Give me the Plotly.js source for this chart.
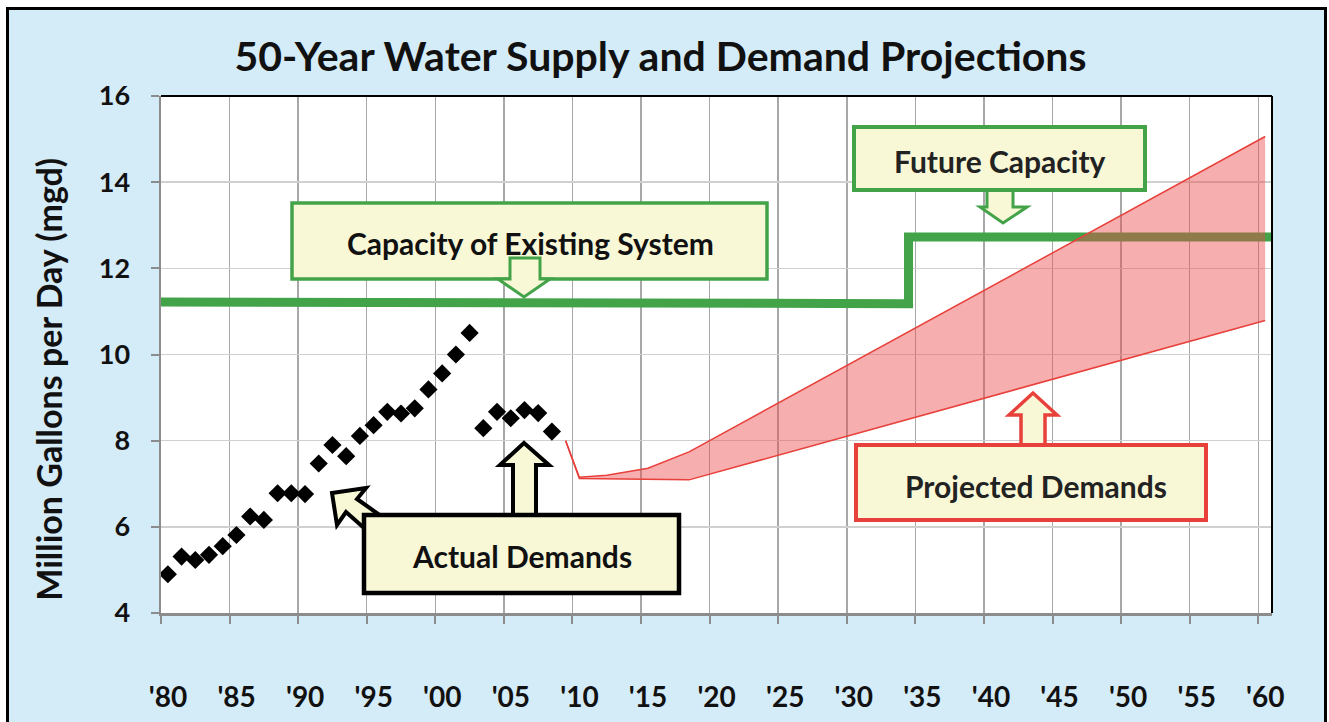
<!DOCTYPE html>
<html>
<head>
<meta charset="utf-8">
<script src="https://cdn.plot.ly/plotly-3.0.1.min.js"></script>
<style>
  html, body { margin: 0; padding: 0; background: #ffffff; overflow: hidden; width: 1329px; height: 722px; }
  #frame { position: absolute; left: 6px; top: 7px; width: 1315px; height: 800px; border: 3px solid #000; background: #d4ebf8; }
  #chart { position: absolute; left: 0; top: 0; width: 1329px; height: 722px; }
</style>
</head>
<body>
<div id="frame"></div>
<div id="chart"></div>
<script>
// ---------- data ----------
const actualYears = [1980,1981,1982,1983,1984,1985,1986,1987,1988,1989,1990,1991,1992,1993,1994,
                     1995,1996,1997,1998,1999,2000,2001,2002,2003,2004,2005,2006,2007,2008];
const actualMgd   = [4.90,5.31,5.23,5.35,5.55,5.81,6.24,6.16,6.78,6.78,6.76,7.47,7.90,7.64,8.11,
                     8.36,8.67,8.63,8.75,9.19,9.56,10.00,10.50,8.29,8.67,8.52,8.71,8.64,8.21];

const capacityYears = [1980, 2034.5, 2034.5, 2061];
const capacityMgd   = [11.22, 11.18, 12.73, 12.73];

const lowYears  = [2009, 2010, 2018, 2060];
const lowMgd    = [8.00, 7.12, 7.09, 10.79];
const highYears = [2009, 2010, 2012, 2015, 2018, 2060];
const highMgd   = [8.00, 7.15, 7.20, 7.36, 7.74, 15.06];

const tickYears  = [1980,1985,1990,1995,2000,2005,2010,2015,2020,2025,2030,2035,2040,2045,2050,2055,2060];
const tickLabels = ["'80","'85","'90","'95","'00","'05","'10","'15","'20","'25","'30","'35","'40","'45","'50","'55","'60"];

// ---------- layout helpers (pixel -> data) ----------
const L = 161, R = 1272, T = 96, B = 613;
const XR = [1980, 2061], YR = [4, 16];
const X = px => XR[0] + (px - L) / (R - L) * (XR[1] - XR[0]);
const Y = py => YR[1] - (py - T) / (B - T) * (YR[1] - YR[0]);
const poly = pts => 'M ' + pts.map(p => X(p[0]) + ',' + Y(p[1])).join(' L ') + ' Z';
const rect = (x0, y0, x1, y1, col, w) => ({type:'rect', xref:'x', yref:'y', layer:'above',
  x0:X(x0), x1:X(x1), y0:Y(y0), y1:Y(y1), fillcolor:'#f8f8d6', line:{color:col, width:w}});
const arrow = (pts, col, w) => ({type:'path', xref:'x', yref:'y', layer:'above', path:poly(pts),
  fillcolor:'#f8f8d6', line:{color:col, width:w}});

const GREEN = '#43a349', RED = '#e8403a', BLACK = '#000000';
const mid = v => v + 0.5;   // values plotted at the middle of each year

const traces = [
  { x: capacityYears, y: capacityMgd, mode:'lines', line:{color:GREEN, width:9}, hoverinfo:'skip' },
  { x: lowYears.map(mid), y: lowMgd, mode:'lines', line:{color:RED, width:1.5} },
  { x: highYears.map(mid), y: highMgd, mode:'lines', line:{color:RED, width:1.5},
    fill:'tonexty', fillcolor:'rgba(235,75,75,0.45)' },
  { x: actualYears.map(mid), y: actualMgd, mode:'markers',
    marker:{symbol:'diamond', size:14, color:BLACK} }
];

const FONT = 'Lato, "Open Sans", sans-serif';
const shapes = [
  {type:'line', xref:'paper', yref:'paper', x0:0, x1:1, y0:1, y1:1, line:{color:'#000', width:2}, layer:'above'},
  {type:'line', xref:'paper', yref:'paper', x0:1, x1:1, y0:0, y1:1, line:{color:'#000', width:2}, layer:'above'},
  arrow([[332,493],[366,488],[357,499],[381,516],[364,528],[346,512],[337,525]], BLACK, 4),
  arrow([[513,520],[513,465],[500,465],[524,443],[549,465],[536,465],[536,520]], BLACK, 4),
  rect(364,515,679,593, BLACK, 4.5),
  rect(292,203,767,279, GREEN, 3.5),
  arrow([[510,258],[540,258],[540,279],[550,279],[524,297],[498,279],[510,279]], GREEN, 3),
  arrow([[987,186],[1013,186],[1013,207],[1027,207],[1003,223],[980,207],[987,207]], GREEN, 3),
  rect(854,127,1145,190, GREEN, 4),
  arrow([[1021,450],[1021,415],[1009,415],[1033,393],[1057,415],[1045,415],[1045,450]], RED, 3.5),
  rect(856,445,1206,520, RED, 4)
];

const ann = (px, py, text, size, col) => ({xref:'x', yref:'y', x:X(px), y:Y(py), text:text, showarrow:false,
  xanchor:'center', yanchor:'middle', font:{family:FONT, size:size, color:col, weight:'bold'}});

const layout = {
  width: 1329, height: 722,
  margin: {l: L, r: 1329 - R, t: T, b: 722 - B},
  paper_bgcolor: 'rgba(0,0,0,0)', plot_bgcolor: '#ffffff',
  showlegend: false,
  title: {text: '50-Year Water Supply and Demand Projections', xref:'container', x:0.497, y:1-57/722,
          yanchor:'middle', font:{family:FONT, size:41, color:'#111', weight:'bold'}},
  xaxis: {range: XR, tickvals: tickYears, ticktext: tickLabels, showgrid:true, gridcolor:'#a8a8a8', gridwidth:1.5,
          zeroline:false, showline:true, linecolor:'#8c8c8c', linewidth:2.5, ticks:'outside', ticklen:8,
          tickcolor:'#8c8c8c', tickwidth:2, ticklabelstandoff:50, ticklabelshift:7,
          tickfont:{family:FONT, size:28, color:'#111', weight:'bold'}, fixedrange:true},
  yaxis: {range: YR, dtick: 2, tick0: 4, showgrid:true, gridcolor:'#d0d0d0', gridwidth:1.5,
          zeroline:false, showline:true, linecolor:'#8c8c8c', linewidth:2.5, ticks:'outside', ticklen:8,
          tickcolor:'#8c8c8c', tickwidth:2, ticklabelstandoff:15,
          tickfont:{family:FONT, size:27, color:'#111', weight:'bold'},
          title:{text:'Million Gallons per Day (mgd)&nbsp;&nbsp;&nbsp;&nbsp;&nbsp;&nbsp;', standoff:26,
                 font:{family:FONT, size:34, color:'#111', weight:'bold'}}, fixedrange:true},
  shapes: shapes,
  annotations: [
    ann(530, 243, 'Capacity of Existing System', 30, '#111'),
    ann(1000, 161, 'Future Capacity', 30, '#222'),
    ann(522, 556, 'Actual Demands', 30, '#111'),
    ann(1036, 486, 'Projected Demands', 30, '#222')
  ]
};

Plotly.newPlot('chart', traces, layout, {displayModeBar:false, staticPlot:true});
</script>
</body>
</html>
